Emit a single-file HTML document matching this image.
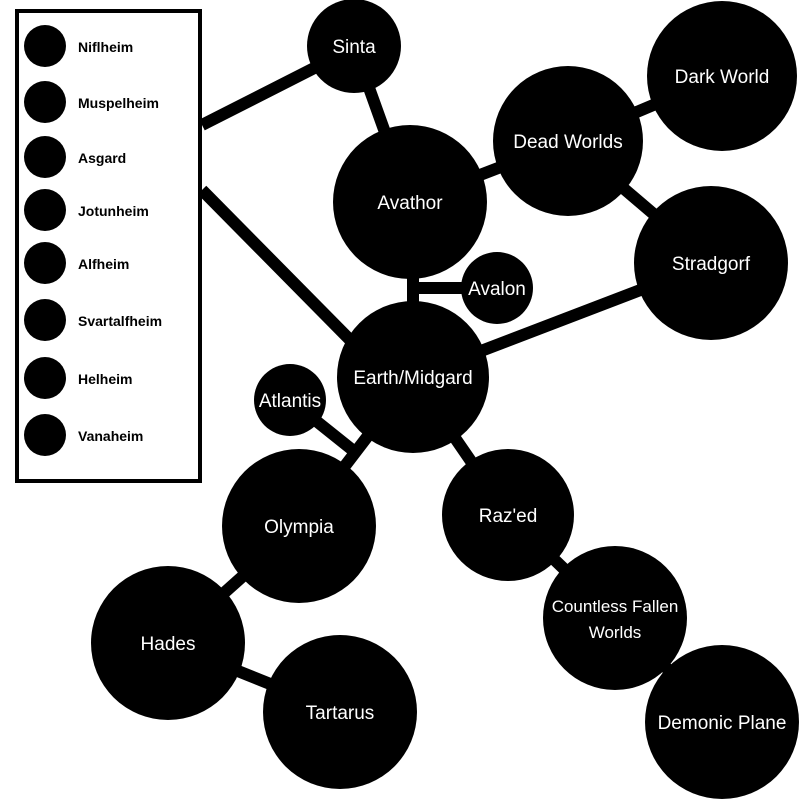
<!DOCTYPE html>
<html><head><style>body{margin:0;background:#fff}svg{display:block}</style></head><body>
<svg width="800" height="800" viewBox="0 0 800 800" xmlns="http://www.w3.org/2000/svg">
<g stroke="#000" stroke-width="12">
<line x1="202" y1="125" x2="330" y2="60"/>
<line x1="202" y1="190" x2="360" y2="350"/>
<line x1="354" y1="46" x2="410" y2="202"/>
<line x1="410" y1="202" x2="568" y2="141"/>
<line x1="568" y1="141" x2="722" y2="76"/>
<line x1="568" y1="141" x2="711" y2="263"/>
<line x1="413" y1="202" x2="413" y2="377"/>
<line x1="413" y1="288" x2="497" y2="288"/>
<line x1="711" y1="263" x2="413" y2="377"/>
<line x1="413" y1="377" x2="299" y2="526"/>
<line x1="290" y1="400" x2="355" y2="452"/>
<line x1="413" y1="377" x2="508" y2="515"/>
<line x1="508" y1="515" x2="615" y2="618"/>
<line x1="615" y1="618" x2="722" y2="722"/>
<line x1="299" y1="526" x2="168" y2="643"/>
<line x1="168" y1="643" x2="340" y2="712"/>
</g>
<g fill="#000">
<circle cx="354" cy="46" r="47"/>
<circle cx="410" cy="202" r="77"/>
<circle cx="568" cy="141" r="75"/>
<circle cx="722" cy="76" r="75"/>
<circle cx="711" cy="263" r="77"/>
<circle cx="497" cy="288" r="36"/>
<circle cx="413" cy="377" r="76"/>
<circle cx="290" cy="400" r="36"/>
<circle cx="299" cy="526" r="77"/>
<circle cx="508" cy="515" r="66"/>
<circle cx="168" cy="643" r="77"/>
<circle cx="340" cy="712" r="77"/>
<circle cx="615" cy="618" r="72"/>
<circle cx="722" cy="722" r="77"/>
</g>
<g fill="#fff" font-family="Liberation Sans, sans-serif" font-size="19" text-anchor="middle">
<text x="354" y="53">Sinta</text>
<text x="410" y="209">Avathor</text>
<text x="568" y="148">Dead Worlds</text>
<text x="722" y="83">Dark World</text>
<text x="711" y="270">Stradgorf</text>
<text x="497" y="295">Avalon</text>
<text x="413" y="384">Earth/Midgard</text>
<text x="290" y="407">Atlantis</text>
<text x="299" y="533">Olympia</text>
<text x="508" y="522">Raz'ed</text>
<text x="168" y="650">Hades</text>
<text x="340" y="719">Tartarus</text>
<text x="615" y="612" font-size="17">Countless Fallen</text>
<text x="615" y="638" font-size="17">Worlds</text>
<text x="722" y="729">Demonic Plane</text>
</g>
<rect x="17" y="11" width="183" height="470" fill="#fff" stroke="#000" stroke-width="4"/>
<g fill="#000">
<circle cx="45" cy="46" r="21"/><circle cx="45" cy="102" r="21"/><circle cx="45" cy="157" r="21"/><circle cx="45" cy="210" r="21"/>
<circle cx="45" cy="263" r="21"/><circle cx="45" cy="320" r="21"/><circle cx="45" cy="378" r="21"/><circle cx="45" cy="435" r="21"/>
</g>
<g fill="#000" font-family="Liberation Sans, sans-serif" font-size="14" font-weight="bold">
<text x="78" y="52">Niflheim</text>
<text x="78" y="108">Muspelheim</text>
<text x="78" y="163">Asgard</text>
<text x="78" y="216">Jotunheim</text>
<text x="78" y="269">Alfheim</text>
<text x="78" y="326">Svartalfheim</text>
<text x="78" y="384">Helheim</text>
<text x="78" y="441">Vanaheim</text>
</g>
</svg>
</body></html>
